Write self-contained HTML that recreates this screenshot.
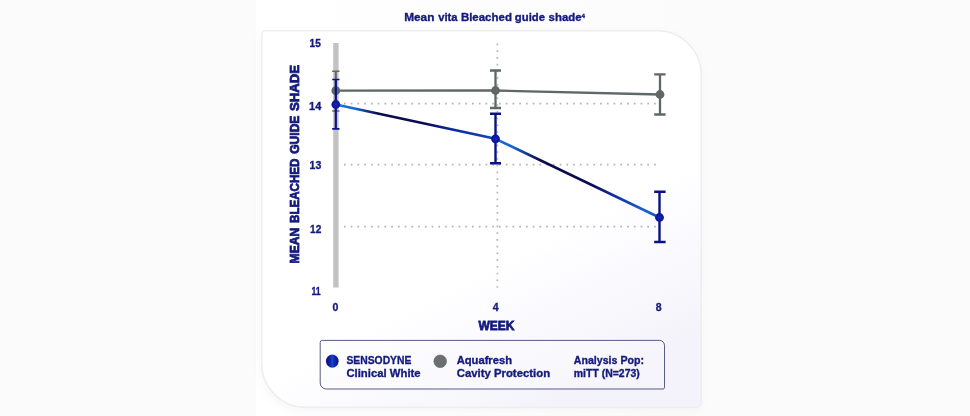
<!DOCTYPE html>
<html lang="en">
<head>
<meta charset="utf-8">
<title>Mean vita Bleached guide shade</title>
<style>
  html, body { margin: 0; padding: 0; }
  body { width: 970px; height: 416px; overflow: hidden; background: #fbfbfb; font-family: "Liberation Sans", sans-serif; }
  .wrap { position: relative; width: 970px; height: 416px; overflow: hidden; }
  .wrap svg { position: absolute; left: 0; top: 0; display: block; }
  text { font-family: "Liberation Sans", sans-serif; font-weight: 700; fill: #141a7c; stroke: #141a7c; stroke-width: 0.35px; }
  .heavy { stroke-width: 0.8px; }
</style>
</head>
<body>
<div class="wrap">
<svg width="970" height="416" viewBox="0 0 970 416">
  <defs>
    <linearGradient id="cardfill" gradientUnits="userSpaceOnUse" x1="430" y1="150" x2="560" y2="407">
      <stop offset="0" stop-color="#ffffff"/>
      <stop offset="0.45" stop-color="#ffffff"/>
      <stop offset="0.6" stop-color="#fcfcff"/>
      <stop offset="0.75" stop-color="#f9f9fd"/>
      <stop offset="0.9" stop-color="#f6f5fb"/>
      <stop offset="1" stop-color="#f4f2fa"/>
    </linearGradient>
    <linearGradient id="canvasfill" gradientUnits="userSpaceOnUse" x1="256" y1="0" x2="703" y2="0">
      <stop offset="0" stop-color="#ffffff"/>
      <stop offset="1" stop-color="#fbfbfb"/>
    </linearGradient>
    <linearGradient id="blueline1" gradientUnits="userSpaceOnUse" x1="336" y1="104" x2="496" y2="139">
      <stop offset="0" stop-color="#1a72dc"/>
      <stop offset="0.12" stop-color="#1866d2"/>
      <stop offset="0.26" stop-color="#0a0c48"/>
      <stop offset="0.56" stop-color="#0a0c52"/>
      <stop offset="0.7" stop-color="#0d239c"/>
      <stop offset="1" stop-color="#1048b8"/>
    </linearGradient>
    <linearGradient id="blueline2" gradientUnits="userSpaceOnUse" x1="496" y1="139" x2="660" y2="217">
      <stop offset="0" stop-color="#186ad4"/>
      <stop offset="0.1" stop-color="#1866d2"/>
      <stop offset="0.27" stop-color="#0a0c48"/>
      <stop offset="0.58" stop-color="#0a0c52"/>
      <stop offset="0.72" stop-color="#0f2ca8"/>
      <stop offset="0.9" stop-color="#1860d0"/>
      <stop offset="1" stop-color="#1554c4"/>
    </linearGradient>
    <radialGradient id="bluept" cx="0.5" cy="0.5" r="0.5">
      <stop offset="0" stop-color="#1224c4"/>
      <stop offset="0.55" stop-color="#0e1aa8"/>
      <stop offset="1" stop-color="#0b1290"/>
    </radialGradient>
    <linearGradient id="bluedot" x1="0" y1="0" x2="1" y2="0">
      <stop offset="0" stop-color="#0a0f78"/>
      <stop offset="0.22" stop-color="#0c1a98"/>
      <stop offset="0.42" stop-color="#1236b8"/>
      <stop offset="0.5" stop-color="#1a4cd2"/>
      <stop offset="0.6" stop-color="#1230b4"/>
      <stop offset="0.8" stop-color="#0e20a4"/>
      <stop offset="1" stop-color="#0a0f78"/>
    </linearGradient>
    <filter id="shadow" x="-10%" y="-10%" width="120%" height="125%">
      <feGaussianBlur in="SourceAlpha" stdDeviation="3.5"/>
      <feOffset dx="-1.5" dy="2.5" result="b"/>
      <feFlood flood-color="#8a8ab0" flood-opacity="0.07"/>
      <feComposite in2="b" operator="in"/>
      <feMerge><feMergeNode/><feMergeNode in="SourceGraphic"/></feMerge>
    </filter>
  </defs>

  <!-- image canvas -->
  <rect x="256" y="0" width="447" height="416" fill="url(#canvasfill)"/>

  <!-- card -->
  <path filter="url(#shadow)" d="M265.7,30.8 H657.2 A44,44 0 0 1 701.2,74.8 V402.3 A5,5 0 0 1 696.2,407.3 H305.7 A44,44 0 0 1 261.7,363.3 V34.8 A4,4 0 0 1 265.7,30.8 Z" fill="url(#cardfill)" stroke="#eeeef1" stroke-width="1.5"/>

  <!-- title -->
  <text y="20.9" font-size="11.5"><tspan x="404.2" textLength="30.2" lengthAdjust="spacingAndGlyphs">Mean</tspan> <tspan x="438.2" textLength="19.4" lengthAdjust="spacingAndGlyphs">vita</tspan> <tspan x="460.9" textLength="51" lengthAdjust="spacingAndGlyphs">Bleached</tspan> <tspan x="514.8" textLength="30.2" lengthAdjust="spacingAndGlyphs">guide</tspan> <tspan x="548.6" textLength="33" lengthAdjust="spacingAndGlyphs">shade</tspan><tspan x="581.6" y="17.7" font-size="6.2">4</tspan></text>

  <!-- y axis bar -->
  <rect x="333.2" y="43" width="5.4" height="244.5" fill="#c2c2c4"/>

  <!-- gridlines -->
  <g stroke="#b4b4b4" stroke-width="1.7" stroke-dasharray="1.7 5.04" fill="none">
    <line x1="344" y1="103.7" x2="657.5" y2="103.7"/>
    <line x1="344" y1="164.7" x2="657.5" y2="164.7"/>
    <line x1="344" y1="226.7" x2="657.5" y2="226.7"/>
    <line x1="497.4" y1="43.5" x2="497.4" y2="289.5"/>
  </g>

  <!-- y labels -->
  <g font-size="11.8" style="fill:#12176e;stroke:#12176e;stroke-width:0.5px">
    <text x="309.6" y="47.2" textLength="11.2" lengthAdjust="spacingAndGlyphs">15</text>
    <text x="309.1" y="109.5" textLength="12.2" lengthAdjust="spacingAndGlyphs">14</text>
    <text x="309.6" y="169.2" textLength="11.7" lengthAdjust="spacingAndGlyphs">13</text>
    <text x="310" y="233.4" textLength="11.3" lengthAdjust="spacingAndGlyphs">12</text>
    <text x="311.4" y="294.9" textLength="9.2" lengthAdjust="spacingAndGlyphs">11</text>
  </g>
  <text class="heavy" transform="translate(299.1,0) rotate(-90)" font-size="13"><tspan x="-263.4" textLength="35.6" lengthAdjust="spacingAndGlyphs">MEAN</tspan> <tspan x="-223" textLength="64.5" lengthAdjust="spacingAndGlyphs">BLEACHED</tspan> <tspan x="-153.8" textLength="38.2" lengthAdjust="spacingAndGlyphs">GUIDE</tspan> <tspan x="-110.9" textLength="45.9" lengthAdjust="spacingAndGlyphs">SHADE</tspan></text>

  <!-- x labels -->
  <g font-size="10.5" text-anchor="middle">
    <text x="335.4" y="311.1">0</text>
    <text x="495.6" y="311.1">4</text>
    <text x="658.7" y="311.1">8</text>
  </g>
  <text class="heavy" x="478.4" y="330" font-size="13.3" textLength="36" lengthAdjust="spacingAndGlyphs">WEEK</text>

  <!-- grey series -->
  <g stroke="#5f6769" stroke-width="2.3" fill="none">
    <polyline points="335.8,90.7 495.5,90.5 660,94.5"/>
    <path d="M335.8,71 V111" stroke-width="2"/><path d="M332.2,71.3 H339.5 M332.2,111 H339.5" stroke-width="1.6"/>
    <path d="M495.5,70.5 V108 M490,70.5 H501 M490,108 H501"/>
    <path d="M660,74.3 V114.5 M654.2,74.3 H665.6 M654.2,114.5 H665.6"/>
  </g>
  <g fill="#5f6769">
    <circle cx="335.8" cy="90.7" r="4.4"/>
    <circle cx="495.5" cy="90.5" r="4.4"/>
    <circle cx="660" cy="94.5" r="4.4"/>
  </g>

  <!-- blue series -->
  <g stroke-width="2.6" fill="none" stroke-linecap="round">
    <line x1="335.8" y1="104.5" x2="495.5" y2="138.8" stroke="url(#blueline1)"/>
    <line x1="495.5" y1="138.8" x2="659.5" y2="217.5" stroke="url(#blueline2)"/>
  </g>
  <g stroke="#0b1184" stroke-width="2.4" fill="none">
    <path d="M335.8,79.5 V129" stroke-width="2.2"/><path d="M332.2,79.5 H339.5 M332.2,128.8 H339.5" stroke-width="1.7"/>
    <path d="M495.5,113.8 V163.2 M490,113.8 H501 M490,163.2 H501"/>
    <path d="M659.5,191.8 V242 M654.2,191.8 H665.6 M654.2,242 H665.6"/>
  </g>
  <g fill="url(#bluept)">
    <circle cx="335.8" cy="104.5" r="4.4"/>
    <circle cx="495.5" cy="138.8" r="4.4"/>
    <circle cx="659.5" cy="217.5" r="4.4"/>
  </g>

  <!-- legend -->
  <path d="M322.2,340.4 H659.5 A5,5 0 0 1 664.5,345.4 V387.5 A1.5,1.5 0 0 1 663,389 H326.2 A6,6 0 0 1 320.2,383 V342.4 A2,2 0 0 1 322.2,340.4 Z" fill="#fbfbff" fill-opacity="0.3" stroke="#50537e" stroke-width="0.95"/>
  <ellipse cx="332.3" cy="361.2" rx="6.3" ry="6.6" fill="url(#bluedot)"/>
  <circle cx="440.2" cy="361.3" r="6.3" fill="#6b6f71" stroke="#5a5e60" stroke-width="0.6"/>
  <g font-size="11">
    <text x="346.4" y="363.7" textLength="65" lengthAdjust="spacingAndGlyphs">SENSODYNE</text>
    <text x="346.4" y="377" textLength="74.2" lengthAdjust="spacingAndGlyphs">Clinical White</text>
    <text x="456.7" y="363.7" textLength="55.3" lengthAdjust="spacingAndGlyphs">Aquafresh</text>
    <text x="456.7" y="377" textLength="93.4" lengthAdjust="spacingAndGlyphs">Cavity Protection</text>
    <text x="573.8" y="363.7" textLength="70.2" lengthAdjust="spacingAndGlyphs">Analysis Pop:</text>
    <text x="573.8" y="377" textLength="66" lengthAdjust="spacingAndGlyphs">miTT (N=273)</text>
  </g>
</svg>
</div>
</body>
</html>
